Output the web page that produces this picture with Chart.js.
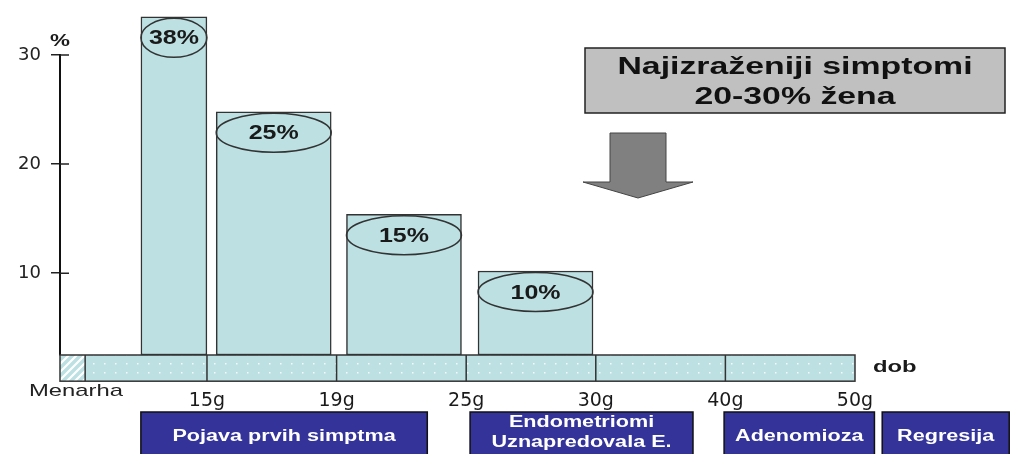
<!DOCTYPE html>
<html>
<head>
<meta charset="utf-8">
<script src="https://cdn.jsdelivr.net/npm/chart.js@4.4.1/dist/chart.umd.min.js"></script>
<style>
html, body { margin: 0; padding: 0; background: #fff; }
</style>
</head>
<body>
<canvas id="myChart" width="1018" height="454"></canvas>
<script>
// DATA
const ageLabels = ['15g', '19g', '25g', '30g', '40g', '50g'];
const ageTicks = [1, 2, 3, 4, 5, 6];
const yTicks = [10, 20, 30];
const barCenters = [0.745, 1.515, 2.52, 3.535];
const barTops = [33.5, 24.8, 15.4, 10.2];
const barBase = 2.5;
const barLabels = ['38%', '25%', '15%', '10%'];
const phaseLabels = [['Pojava prvih simptma'], ['Endometriomi', 'Uznapredovala E.'], ['Adenomioza'], ['Regresija']];
const phaseFrom = [0.49, 3.03, 4.99, 6.21];
const phaseTo = [2.7, 4.75, 6.15, 7.19];
const menarhaAge = 0.06;

const barFill = '#bde0e3';
const edge = '#333';
const STRETCH = 1.4;

// stretched text helper (the original is wide)
function wideText(ctx, text, x, y, font, color, align, sx) {
    ctx.save();
    ctx.font = font;
    ctx.fillStyle = color;
    ctx.textAlign = align || 'center';
    ctx.textBaseline = 'middle';
    ctx.translate(x, y);
    ctx.scale(sx || STRETCH, 1);
    ctx.fillText(text, 0, 0);
    ctx.restore();
}

function makePattern(ctx, hatch) {
    const c = document.createElement('canvas');
    c.width = hatch ? 8 : 11;
    c.height = hatch ? 8 : 9;
    const g = c.getContext('2d');
    g.fillStyle = barFill;
    g.fillRect(0, 0, c.width, c.height);
    if (hatch) {
        g.strokeStyle = '#fff';
        g.lineWidth = 2.2;
        g.beginPath();
        g.moveTo(-2, 10); g.lineTo(10, -2);
        g.moveTo(-6, 6); g.lineTo(6, -6);
        g.moveTo(2, 14); g.lineTo(14, 2);
        g.stroke();
    } else {
        g.fillStyle = 'rgba(255,255,255,0.85)';
        g.fillRect(5, 3, 1.5, 1.5);
    }
    return ctx.createPattern(c, 'repeat');
}

// strip with ages, note box, arrow, phase boxes
const decor = {
    id: 'decor',
    beforeDatasetsDraw(chart) {
        const ctx = chart.ctx;
        const x = chart.scales.x;
        const y = chart.scales.y;
        const left = chart.chartArea.left;
        const top = y.getPixelForValue(barBase);
        const bottom = y.getPixelForValue(0.1);
        const right = x.getPixelForValue(ageTicks[ageTicks.length - 1]);
        const mx = x.getPixelForValue(menarhaAge);
        ctx.save();
        ctx.fillStyle = makePattern(ctx, true);
        ctx.fillRect(left, top, mx - left, bottom - top);
        ctx.fillStyle = makePattern(ctx, false);
        ctx.fillRect(mx, top, right - mx, bottom - top);
        ctx.strokeStyle = edge;
        ctx.lineWidth = 1.5;
        ctx.strokeRect(left, top, right - left, bottom - top);
        ctx.beginPath();
        ctx.moveTo(mx, top); ctx.lineTo(mx, bottom);
        ageTicks.slice(0, -1).forEach((a) => {
            const px = x.getPixelForValue(a);
            ctx.moveTo(px, top); ctx.lineTo(px, bottom);
        });
        ctx.stroke();
        // small ticks right of axis
        ctx.strokeStyle = '#222';
        ctx.lineWidth = 1.5;
        ctx.beginPath();
        yTicks.forEach((v) => {
            const py = y.getPixelForValue(v);
            ctx.moveTo(left, py); ctx.lineTo(left + 9, py);
        });
        ctx.stroke();
        ctx.restore();
    },
    afterDatasetsDraw(chart) {
        const ctx = chart.ctx;
        const x = chart.scales.x;
        const y = chart.scales.y;
        const left = chart.chartArea.left;
        // ellipses on bars
        let k = 0;
        chart.data.datasets.forEach((ds, di) => {
            chart.getDatasetMeta(di).data.forEach((el) => {
                const cy = el.y + 21;
                ctx.save();
                ctx.strokeStyle = edge;
                ctx.lineWidth = 1.5;
                ctx.beginPath();
                ctx.ellipse(el.x, cy, el.width / 2, 19.5, 0, 0, Math.PI * 2);
                ctx.stroke();
                ctx.restore();
                wideText(ctx, barLabels[k], el.x, cy + 1, 'bold 20px "Liberation Sans"', '#1a1a1a', 'center', 1.25);
                k++;
            });
        });
        // axis texts
        wideText(ctx, '%', left, y.getPixelForValue(30) - 13, 'bold 16px "Liberation Sans"', '#1a1a1a');
        wideText(ctx, 'dob', x.getPixelForValue(6) + 18, y.getPixelForValue(barBase) + 12, 'bold 17px "Liberation Sans"', '#1a1a1a', 'left');
        wideText(ctx, 'Menarha', left + 16, y.getPixelForValue(barBase) + 36, '17px "Liberation Sans"', '#222');
        // note box
        ctx.save();
        ctx.fillStyle = '#c0c0c0';
        ctx.fillRect(585, 48, 420, 65);
        ctx.strokeStyle = '#222';
        ctx.lineWidth = 1.5;
        ctx.strokeRect(585, 48, 420, 65);
        ctx.restore();
        wideText(ctx, 'Najizraženiji simptomi', 795, 68, 'bold 23px "Liberation Sans"', '#111', 'center', 1.47);
        wideText(ctx, '20-30% žena', 795, 98, 'bold 23px "Liberation Sans"', '#111', 'center', 1.47);
        // arrow
        ctx.save();
        ctx.fillStyle = '#808080';
        ctx.strokeStyle = '#444';
        ctx.lineWidth = 1;
        ctx.beginPath();
        ctx.moveTo(610, 133); ctx.lineTo(666, 133); ctx.lineTo(666, 182);
        ctx.lineTo(693, 182); ctx.lineTo(638, 198); ctx.lineTo(583, 182);
        ctx.lineTo(610, 182); ctx.closePath();
        ctx.fill();
        ctx.stroke();
        ctx.restore();
        // phase boxes
        phaseLabels.forEach((lines, i) => {
            const x0 = x.getPixelForValue(phaseFrom[i]);
            const x1 = x.getPixelForValue(phaseTo[i]);
            ctx.save();
            ctx.fillStyle = '#333399';
            ctx.fillRect(x0, 412, x1 - x0, 50);
            ctx.strokeStyle = '#111';
            ctx.lineWidth = 1.5;
            ctx.strokeRect(x0, 412, x1 - x0, 50);
            ctx.restore();
            const cx = (x0 + x1) / 2;
            if (lines.length === 1) {
                wideText(ctx, lines[0], cx, 437, 'bold 16px "Liberation Sans"', '#fff', 'center', 1.35);
            } else {
                wideText(ctx, lines[0], cx, 423, 'bold 16px "Liberation Sans"', '#fff', 'center', 1.35);
                wideText(ctx, lines[1], cx, 443, 'bold 16px "Liberation Sans"', '#fff', 'center', 1.35);
            }
        });
    }
};

function barData(idx) {
    return idx.map((i) => ({ x: barCenters[i], y: [barBase, barTops[i]] }));
}

const data = {
    datasets: [{
        data: barData([0]),
        backgroundColor: barFill,
        borderColor: edge,
        borderWidth: 1.5,
        borderSkipped: false,
        barThickness: 66,
        clip: false,
    }, {
        data: barData([1, 2, 3]),
        backgroundColor: barFill,
        borderColor: edge,
        borderWidth: 1.5,
        borderSkipped: false,
        barThickness: 115,
        clip: false,
    }]
};

const config = {
    type: 'bar',
    data: data,
    options: {
        responsive: false,
        animation: false,
        grouped: false,
        layout: { padding: { top: 55, right: 8, left: 0, bottom: 0 } },
        plugins: { legend: { display: false }, tooltip: { enabled: false } },
        scales: {
            x: {
                type: 'linear',
                offset: false,
                min: -0.134,
                max: 7.196,
                grid: { display: false },
                border: { display: false },
                afterBuildTicks: (s) => { s.ticks = ageTicks.map((v) => ({ value: v })); },
                afterFit: (s) => { s.height = 99; },
                ticks: {
                    autoSkip: false,
                    maxRotation: 0,
                    padding: 27,
                    color: '#1a1a1a',
                    font: { family: 'DejaVu Sans', size: 19 },
                    callback: (v, i) => ageLabels[i],
                },
            },
            y: {
                min: barBase,
                max: 30,
                afterBuildTicks: (s) => { s.ticks = yTicks.map((v) => ({ value: v })); },
                afterFit: (s) => { s.width = 60; },
                grid: { drawOnChartArea: false, tickLength: 9, color: '#222', lineWidth: 1.5 },
                border: { color: '#111', width: 2 },
                ticks: {
                    padding: 10,
                    color: '#222',
                    font: { family: 'DejaVu Sans', size: 18 },
                },
            },
        },
    },
    plugins: [decor],
};

const myChart = new Chart(document.getElementById('myChart'), config);
</script>
</body>
</html>
